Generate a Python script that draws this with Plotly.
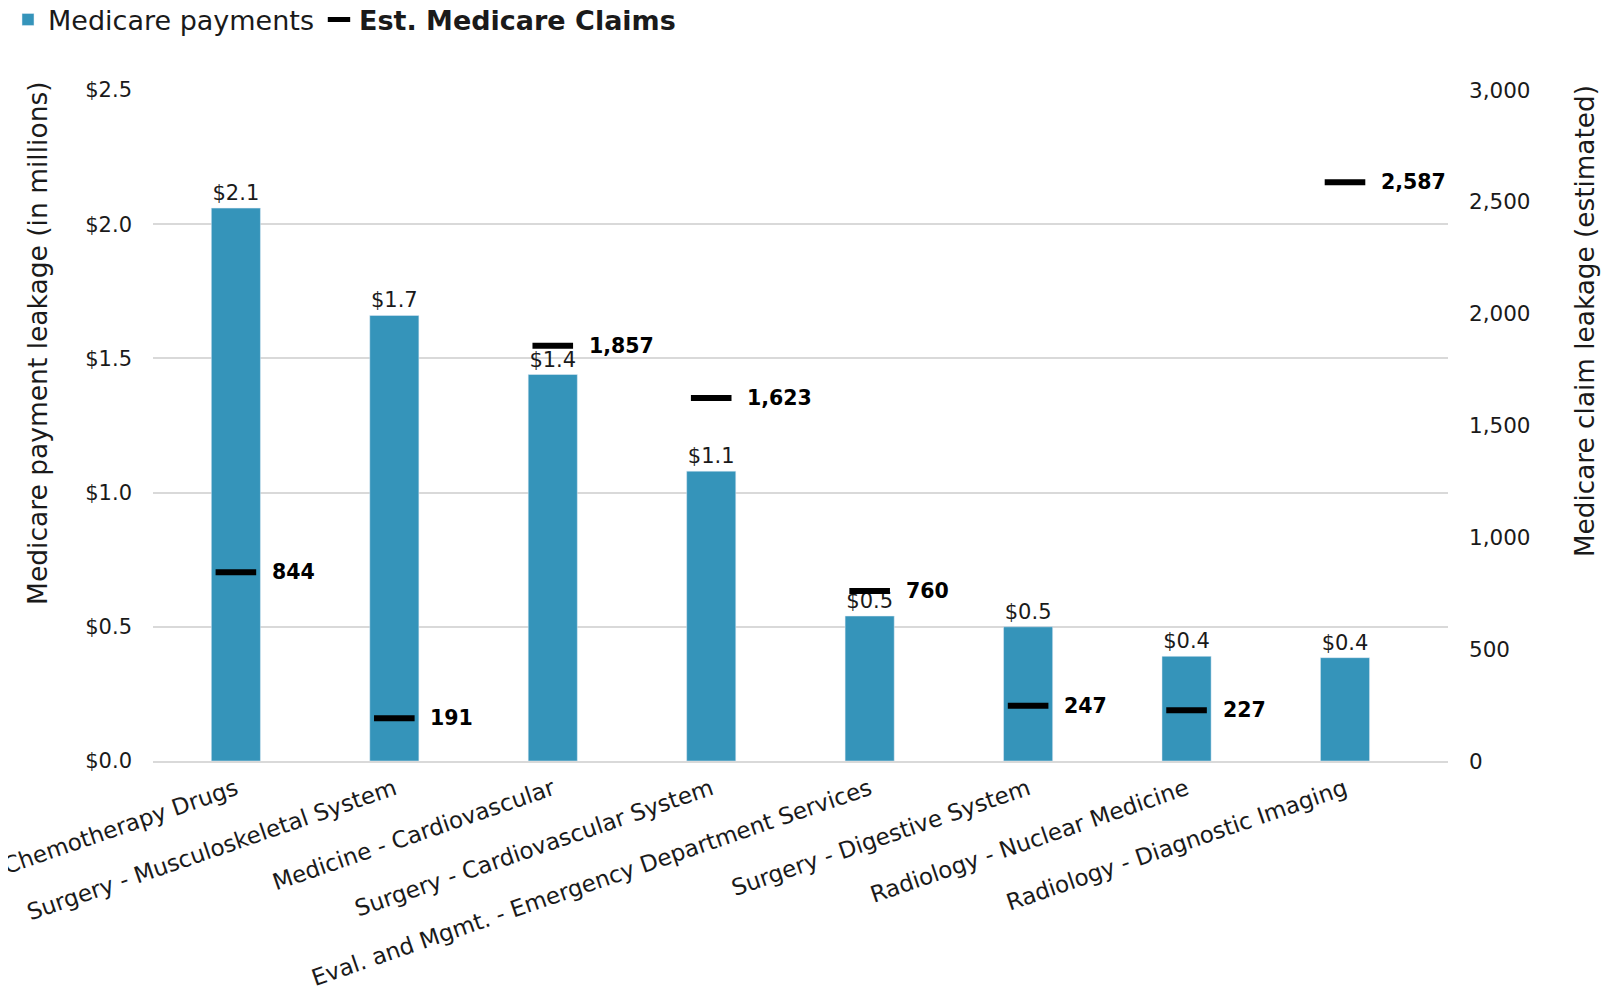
import plotly.graph_objects as go

FONT = "DejaVu Sans"
BAR_COLOR = "#3594BA"
TXT = "#1a1a1a"

categories = [
    "Chemotherapy Drugs",
    "Surgery - Musculoskeletal System",
    "Medicine - Cardiovascular",
    "Surgery - Cardiovascular System",
    "Eval. and Mgmt. - Emergency Department Services",
    "Surgery - Digestive System",
    "Radiology - Nuclear Medicine",
    "Radiology - Diagnostic Imaging",
]
payments = [2.06, 1.66, 1.44, 1.08, 0.54, 0.50, 0.39, 0.385]
claims = [844, 191, 1857, 1623, 760, 247, 227, 2587]

left_ticks = [0, 0.5, 1.0, 1.5, 2.0, 2.5]
left_labels = ["$0.0", "$0.5", "$1.0", "$1.5", "$2.0", "$2.5"]
right_ticks = [0, 500, 1000, 1500, 2000, 2500, 3000]
right_labels = ["0", "500", "1,000", "1,500", "2,000", "2,500", "3,000"]

fig = go.Figure()
fig.add_trace(go.Bar(
    x=categories, y=payments, name="Medicare payments",
    marker_color=BAR_COLOR, width=0.31,
    texttemplate="$%{y:.1f}", textposition="outside",
    textfont=dict(size=21, color=TXT), cliponaxis=False,
))
fig.add_trace(go.Scatter(
    x=categories, y=claims, yaxis="y2", mode="markers",
    name="<b>Est. Medicare Claims</b>",
    marker=dict(symbol="line-ew", size=29, line=dict(color="black", width=6)),
    cliponaxis=False,
))

# bold claim labels to the right of each dash
for c, v in zip(categories, claims):
    fig.add_annotation(x=c, y=v, xref="x", yref="y2", text=f"<b>{v:,}</b>",
                       showarrow=False, xanchor="left", xshift=34,
                       font=dict(size=20.5, color="black"))

# axis titles
fig.add_annotation(x=-0.0888, y=0.623, xref="paper", yref="paper",
                   xanchor="center", yanchor="middle",
                   text="Medicare payment leakage (in millions)",
                   showarrow=False, textangle=-90, font=dict(size=26.5, color=TXT))
fig.add_annotation(x=1.106, y=0.656, xref="paper", yref="paper",
                   xanchor="center", yanchor="middle",
                   text="Medicare claim leakage (estimated)", showarrow=False,
                   textangle=-90, font=dict(size=26.3, color=TXT))

fig.update_layout(
    width=1619, height=994,
    font=dict(family=FONT, color=TXT),
    plot_bgcolor="white", paper_bgcolor="white",
    margin=dict(l=145, r=179, t=82, b=241),
    showlegend=True,
    legend=dict(orientation="h", x=0.0, y=0.988, xref="container", yref="container",
                xanchor="left", yanchor="middle",
                font=dict(size=27, color=TXT), itemwidth=30,
                bgcolor="rgba(0,0,0,0)"),
    xaxis=dict(automargin=False, tickangle=-19, tickfont=dict(size=23, color=TXT),
               showline=True, linecolor="#d9d9d9", linewidth=2, ticks="",
               ticklabelstandoff=4),
    yaxis=dict(range=[0, 2.5], tickvals=left_ticks, ticktext=left_labels,
               tickfont=dict(size=21, color=TXT), gridcolor="#d9d9d9", gridwidth=1.5,
               zeroline=False, automargin=False, ticklabelstandoff=20),
    yaxis2=dict(range=[0, 3000], tickvals=right_ticks, ticktext=right_labels,
                overlaying="y", side="right", showgrid=False, zeroline=False,
                tickfont=dict(size=21.5, color=TXT), automargin=False,
                ticklabelstandoff=20),
)

fig.write_html("out.html")
